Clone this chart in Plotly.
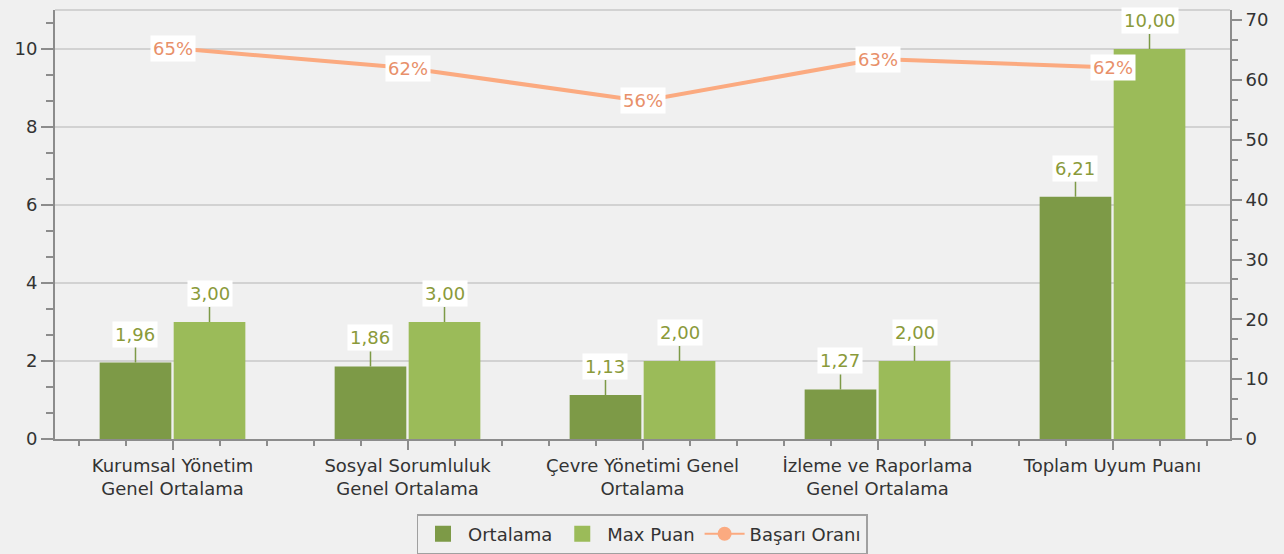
import plotly.graph_objects as go

categories = ["Kurumsal Yönetim<br>Genel Ortalama", "Sosyal Sorumluluk<br>Genel Ortalama",
              "Çevre Yönetimi Genel<br>Ortalama", "İzleme ve Raporlama<br>Genel Ortalama",
              "Toplam Uyum Puanı"]
ortalama = [1.96, 1.86, 1.13, 1.27, 6.21]
max_puan = [3.00, 3.00, 2.00, 2.00, 10.00]
basari = [65.33, 62.0, 56.5, 63.5, 62.1]
basari_labels = ["65%", "62%", "56%", "63%", "62%"]

C_DARK = "#7D9A47"
C_LIGHT = "#9BBB59"
C_LINE = "#FBAA80"
FONT = "DejaVu Sans"
FS = 18
xs = list(range(len(categories)))
W = 0.305

fig = go.Figure()
fig.add_trace(go.Bar(x=xs, y=ortalama, name="Ortalama", marker=dict(color=C_DARK, line=dict(width=0)),
                     width=W, offset=-W - 0.005, showlegend=False))
fig.add_trace(go.Bar(x=xs, y=max_puan, name="Max Puan", marker=dict(color=C_LIGHT, line=dict(width=0)),
                     width=W, offset=0.005, showlegend=False))
fig.add_trace(go.Scatter(x=xs, y=basari, yaxis="y2", mode="lines", line=dict(color=C_LINE, width=4),
                         showlegend=False, name="Başarı Oranı"))
# legend entries
fig.add_trace(go.Scatter(x=[None], y=[None], mode="markers", name="Ortalama",
                         marker=dict(color=C_DARK, size=16, symbol="square")))
fig.add_trace(go.Scatter(x=[None], y=[None], mode="markers", name="Max Puan",
                         marker=dict(color=C_LIGHT, size=16, symbol="square")))
fig.add_trace(go.Scatter(x=[None], y=[None], yaxis="y2", mode="lines+markers", name="Başarı Oranı",
                         line=dict(color=C_LINE, width=2), marker=dict(color=C_LINE, size=14)))

ann = []
for i in xs:
    for val, off in ((ortalama[i], -W / 2 - 0.005), (max_puan[i], W / 2 + 0.005)):
        ann.append(dict(x=i + off, y=val, xref="x", yref="y", text=f"{val:.2f}".replace(".", ","),
                        showarrow=True, arrowhead=0, arrowwidth=1.5, arrowcolor=C_DARK, ax=0, ay=-15,
                        yanchor="bottom", standoff=0, bgcolor="white", borderpad=2,
                        font=dict(family=FONT, size=FS, color="#8A9A3A")))
    ann.append(dict(x=i, y=basari[i], xref="x", yref="y2", text=basari_labels[i], showarrow=False,
                    bgcolor="white", borderpad=2, font=dict(family=FONT, size=FS, color="#E8906A")))

fig.update_layout(
    width=1284, height=554,
    margin=dict(l=55, r=54, t=10, b=115, autoexpand=False),
    paper_bgcolor="#F0F0F0", plot_bgcolor="#F0F0F0",
    font=dict(family=FONT, size=FS, color="#333333"),
    barmode="overlay",
    annotations=ann,
    showlegend=True,
    legend=dict(orientation="h", x=0.5, xanchor="center", xref="container",
                y=(554 - 514) / 554, yanchor="top", yref="container",
                bordercolor="#A0A0A0", borderwidth=1.5, bgcolor="#F0F0F0", itemwidth=40,
                font=dict(family=FONT, size=FS, color="#333333")),
    xaxis=dict(range=[-0.5, 4.5], tickmode="array", tickvals=xs, ticktext=categories,
               showgrid=False, zeroline=False, showline=True, linecolor="#8C8C8C", linewidth=2,
               ticks="outside", ticklen=9, tickcolor="#8C8C8C", tickwidth=2,
               minor=dict(dtick=0.2, tick0=0, ticklen=5, tickcolor="#8C8C8C", ticks="outside", tickwidth=2),
               tickfont=dict(family=FONT, size=FS, color="#333333")),
    yaxis=dict(range=[0, 11], dtick=2, showgrid=True, gridcolor="#D2D2D2", gridwidth=1.5, zeroline=False,
               showline=True, linecolor="#8C8C8C", linewidth=2, ticks="outside", ticklen=12,
               tickcolor="#8C8C8C", tickwidth=2,
               minor=dict(dtick=2 / 3, tick0=0, ticklen=7, tickcolor="#8C8C8C", ticks="outside", tickwidth=2),
               tickfont=dict(family=FONT, size=FS, color="#333333")),
    yaxis2=dict(range=[0, 71.7], dtick=10, overlaying="y", side="right", showgrid=False, zeroline=False,
                showline=True, linecolor="#8C8C8C", linewidth=2, ticks="outside", ticklen=10,
                tickcolor="#8C8C8C", tickwidth=2,
                minor=dict(dtick=10 / 3, tick0=0, ticklen=6, tickcolor="#8C8C8C", ticks="outside", tickwidth=2),
                tickfont=dict(family=FONT, size=FS, color="#333333")),
    shapes=[dict(type="line", xref="paper", yref="paper", x0=0, x1=1, y0=1, y1=1,
                 line=dict(color="#C8C8C8", width=1.5))],
)

fig.write_html("out.html", config={"displayModeBar": False},
               post_script="document.body.style.margin='0';")
